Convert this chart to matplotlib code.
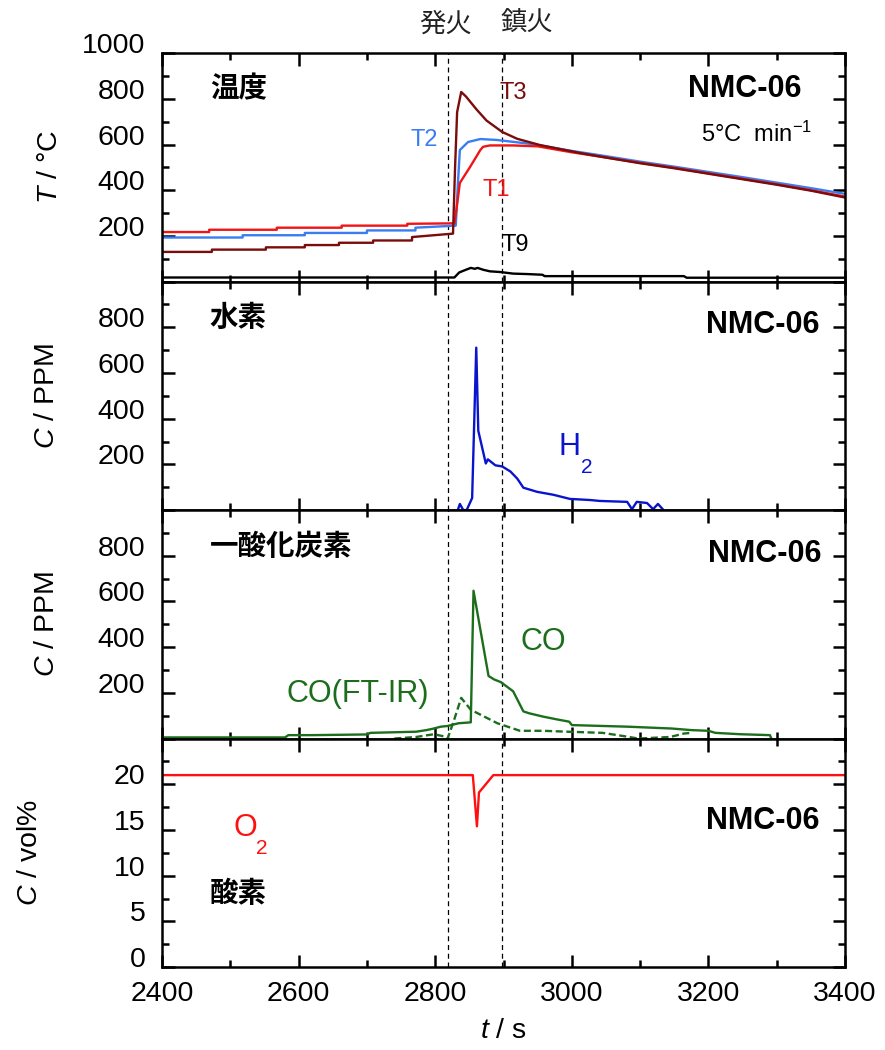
import numpy as np
import matplotlib.pyplot as plt
from matplotlib.ticker import MultipleLocator

plt.rcParams['font.family'] = ['Liberation Sans', 'Noto Sans CJK JP']
plt.rcParams['mathtext.fontset'] = 'custom'
plt.rcParams['mathtext.rm'] = 'Liberation Sans'
plt.rcParams['mathtext.it'] = 'Liberation Sans:italic'

# =========================================================
# DATA
# =========================================================

IGNITION = 2818
EXTINCTION = 2898

# temperatures, deg C
t_T1 = [2400, 2469, 2469, 2568, 2568, 2663, 2663, 2759, 2759, 2828,
        2831, 2836, 2851, 2866, 2870, 2880, 2914, 2950, 3000, 3050,
        3100, 3150, 3200, 3250, 3300, 3350, 3400]
T1 = [217, 217, 227, 227, 236, 236, 245, 245, 253, 255,
      314, 432, 502, 576, 590, 596, 596, 592, 566, 543,
      520, 498, 474, 450, 426, 400, 372]

t_T2 = [2400, 2518, 2518, 2609, 2609, 2700, 2700, 2771, 2771, 2830,
        2833, 2836, 2848, 2866, 2890, 2939, 3000, 3050,
        3100, 3150, 3200, 3250, 3300, 3350, 3400]
T2 = [193, 193, 203, 203, 213, 213, 224, 224, 236, 245,
      420, 576, 611, 624, 620, 603, 572, 549,
      525, 503, 480, 457, 433, 409, 384]

t_T3 = [2400, 2473, 2473, 2552, 2552, 2609, 2609, 2659, 2659, 2709,
        2709, 2766, 2766, 2826, 2829, 2832, 2838, 2845, 2860, 2875,
        2898, 2920, 2953, 3012, 3050, 3100, 3150, 3200, 3250, 3300,
        3350, 3400]
T3 = [130, 130, 140, 140, 150, 150, 160, 160, 170, 170,
      180, 180, 195, 210, 500, 742, 830, 810, 755, 705,
      655, 625, 598, 563, 543, 518, 496, 472, 448, 424,
      398, 368]

t_T9 = [2400, 2828, 2835, 2845, 2852, 2858, 2862, 2870, 2880, 2895,
        2914, 2935, 2957, 2960, 3164, 3168, 3400]
T9 = [18, 18, 40, 52, 60, 56, 60, 52, 45, 42,
      35, 33, 30, 24, 24, 17, 17]

# hydrogen, ppm
t_h2 = [2833, 2836, 2841, 2846, 2854, 2860, 2863, 2874, 2877, 2888,
        2898, 2910, 2920, 2929, 2949, 2973, 2997, 3027, 3041, 3081,
        3088, 3095, 3110, 3119, 3126, 3133]
h2 = [0, 27, 0, 0, 53, 711, 347, 204, 222, 196,
      191, 169, 138, 98, 80, 67, 49, 44, 40, 36,
      4, 36, 31, 4, 27, 4]

# carbon monoxide, ppm
t_co = [2400, 2580, 2585, 2620, 2700, 2705, 2772, 2787, 2798, 2808,
        2818, 2834, 2852, 2856, 2878, 2886, 2896, 2914, 2929, 2937,
        2958, 2978, 2996, 3000, 3082, 3146, 3175, 3200, 3210, 3247,
        3290, 3292]
co = [5, 5, 15, 15, 18, 25, 30, 37, 44, 52,
      55, 67, 71, 647, 274, 259, 247, 207, 119, 111,
      96, 84, 74, 59, 52, 44, 37, 34, 25, 19,
      15, 0]

t_ir = [2740, 2772, 2798, 2812, 2818, 2826, 2838, 2852, 2891, 2924,
        2958, 2994, 3045, 3084, 3097, 3144, 3164, 3175]
co_ir = [0, 7, 19, 10, 0, 67, 178, 126, 67, 34,
         34, 30, 25, 7, 0, 7, 22, 25]

# oxygen, vol%
t_o2 = [2400, 2855, 2861, 2864, 2885, 3400]
o2 = [21, 21, 15.4, 19.1, 21, 21]

C_T1, C_T2, C_T3 = '#f01414', '#3a7cf2', '#7a0c0c'
C_H2, C_CO, C_O2 = '#0a14cc', '#1c6e1c', '#ff1010'

# =========================================================
# FIGURE
# =========================================================

fig = plt.figure(figsize=(8.85, 10.5), dpi=100)
left, width = 0.1831, 0.7718
bottom, h = 0.0790, 0.2176
ax1 = fig.add_axes([left, bottom + 3 * h, width, h])
ax2 = fig.add_axes([left, bottom + 2 * h, width, h], sharex=ax1)
ax3 = fig.add_axes([left, bottom + h, width, h], sharex=ax1)
ax4 = fig.add_axes([left, bottom, width, h], sharex=ax1)
axes = [ax1, ax2, ax3, ax4]

LW = 1.7
ax1.plot(t_T9, T9, color='black', lw=LW)
ax1.plot(t_T2, T2, color=C_T2, lw=LW)
ax1.plot(t_T1, T1, color=C_T1, lw=LW)
ax1.plot(t_T3, T3, color=C_T3, lw=LW)

ax2.plot(t_h2, h2, color=C_H2, lw=LW)

ax3.plot(t_co, co, color=C_CO, lw=LW)
ax3.plot(t_ir, co_ir, color=C_CO, lw=LW, ls=(0, (3, 1.5)))

ax4.plot(t_o2, o2, color=C_O2, lw=LW)

FS = 20.5
ax1.set_ylim(0, 1000)
ax1.set_yticks([0, 200, 400, 600, 800, 1000])
ax1.set_yticklabels(['', '200', '400', '600', '800', '1000'])
for ax in (ax2, ax3):
    ax.set_ylim(0, 1000)
    ax.set_yticks([0, 200, 400, 600, 800, 1000])
    ax.set_yticklabels(['', '200', '400', '600', '800', ''])
for ax in (ax1, ax2, ax3):
    ax.yaxis.set_minor_locator(MultipleLocator(100))
ax4.set_ylim(0, 25)
ax4.set_yticks([0, 5, 10, 15, 20, 25])
ax4.set_yticklabels(['0', '5', '10', '15', '20', ''])
ax4.yaxis.set_minor_locator(MultipleLocator(2.5))
ax4.set_xticks([2400, 2600, 2800, 3000, 3200, 3400])

for ax in axes:
    ax.axvline(IGNITION, color='black', lw=0.9, ls=(0, (4, 3)), zorder=0)
    ax.axvline(EXTINCTION, color='black', lw=0.9, ls=(0, (4, 3)), zorder=0)
    ax.set_xlim(2400, 3400)
    ax.xaxis.set_minor_locator(MultipleLocator(100))
    ax.tick_params(which='both', direction='in', top=True, right=True,
                   width=1.8, labelsize=FS)
    ax.tick_params(axis='y', pad=12)
    ax.tick_params(axis='x', pad=10)
    ax.tick_params(which='major', length=9)
    ax.tick_params(which='minor', length=5)
    for s in ax.spines.values():
        s.set_linewidth(1.8)
    if ax is not ax4:
        ax.tick_params(labelbottom=False)
    # y labels sit on the tick (baseline at the tick)
    for lab in ax.get_yticklabels():
        lab.set_verticalalignment('baseline')

ax1.set_ylabel(r'$T$ / °C', fontsize=FS)
ax2.set_ylabel(r'$C$ / PPM', fontsize=FS)
ax3.set_ylabel(r'$C$ / PPM', fontsize=FS)
ax4.set_ylabel(r'$C$ / vol%', fontsize=FS)
ax1.yaxis.set_label_coords(-0.145, 0.5)
ax2.yaxis.set_label_coords(-0.150, 0.5)
ax3.yaxis.set_label_coords(-0.150, 0.5)
ax4.yaxis.set_label_coords(-0.175, 0.5)
ax4.set_xlabel(r'$t$ / s', fontsize=FS, labelpad=8)

# panel titles
names = ['温度', '水素', '一酸化炭素']
for ax, name in zip(axes[:3], names):
    ax.text(0.070, 0.838, name, transform=ax.transAxes, fontsize=FS,
            fontweight='bold', ha='left', va='center')
ax4.text(0.070, 0.32, '酸素', transform=ax4.transAxes, fontsize=FS,
         fontweight='bold', ha='left', va='center')

nmc_y = [0.845, 0.81, 0.81, 0.64]
nmc_x = [0.936, 0.963, 0.966, 0.963]
for ax, x, y in zip(axes, nmc_x, nmc_y):
    ax.text(x, y, 'NMC-06', transform=ax.transAxes, fontsize=22,
            fontweight='bold', ha='right', va='center')

ax1.text(0.952, 0.611, r'5°C  min$^{-1}$', transform=ax1.transAxes,
         fontsize=17, ha='right', va='baseline')

ax1.text(2914, 825, 'T3', color=C_T3, fontsize=17, ha='center', va='center')
ax1.text(2784, 620, 'T2', color=C_T2, fontsize=17, ha='center', va='center')
ax1.text(2890, 402, 'T1', color=C_T1, fontsize=17, ha='center', va='center')
ax1.text(2917, 162, 'T9', color='black', fontsize=17, ha='center', va='center')


def chem_label(ax, x, y, base, color):
    # big letter plus a dropped subscript "2"
    ax.text(x, y, base, color=color, fontsize=22, ha='left', va='baseline')
    ax.annotate('2', xy=(x, y), xytext=(16.5, -12.5), textcoords='offset points',
                color=color, fontsize=15, ha='left', va='baseline')


chem_label(ax2, 2980, 240, 'H', C_H2)
chem_label(ax4, 2504, 14.3, 'O', C_O2)

ax3.text(2958, 422, 'CO', color=C_CO, fontsize=22, ha='center', va='center')
ax3.text(2687, 196, 'CO(FT-IR)', color=C_CO, fontsize=22, ha='center', va='center')

fig.text(0.503, 0.977, '発火', fontsize=19, color='#222222', ha='center', va='center')
fig.text(0.595, 0.977, '鎮火', fontsize=19, color='#222222', ha='center', va='center')

fig.savefig('out.png', dpi=100)
